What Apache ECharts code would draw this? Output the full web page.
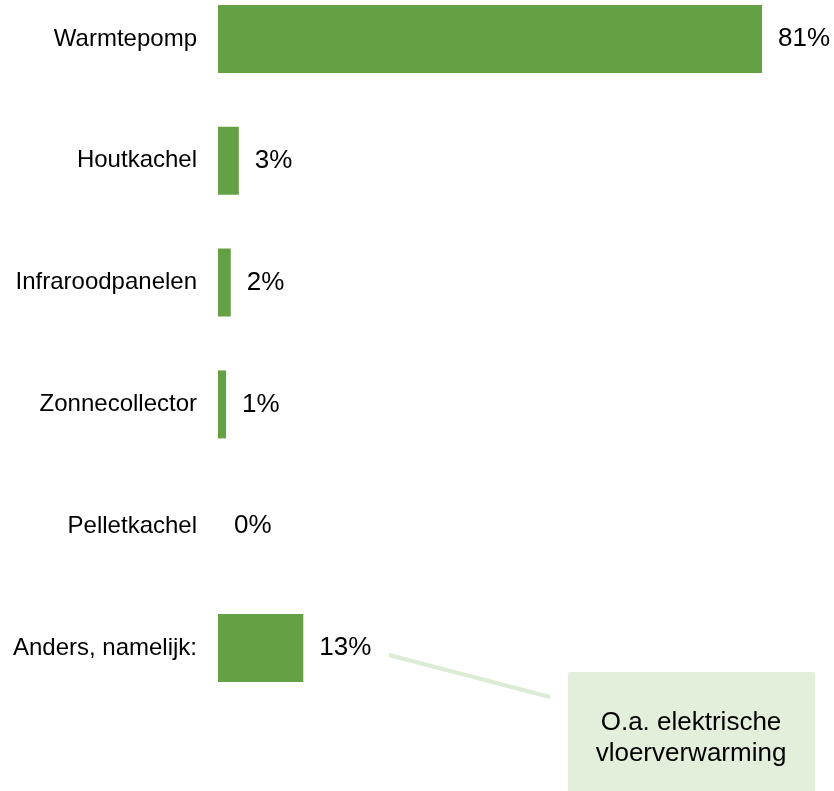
<!DOCTYPE html>
<html>
<head>
<meta charset="utf-8">
<script src="https://cdn.jsdelivr.net/npm/echarts@6/dist/echarts.min.js"></script>
<style>
  html, body { margin: 0; padding: 0; background: #fff; }
  #main { width: 834px; height: 791px; }
</style>
</head>
<body>
<div id="main"></div>
<script>
var categories = ['Warmtepomp', 'Houtkachel', 'Infraroodpanelen', 'Zonnecollector', 'Pelletkachel', 'Anders, namelijk:'];
// percentages (labels are rounded)
var values = [81, 3.1, 1.9, 1.2, 0, 12.7];
var noteLines = ['O.a. elektrische', 'vloerverwarming'];

var font = '"Liberation Sans", Arial, sans-serif';
var myChart = echarts.init(document.getElementById('main'));

var option = {
    animation: false,
    backgroundColor: '#ffffff',
    grid: {
        left: 218,
        right: 72,
        top: -22,
        bottom: 82,
        outerBoundsMode: 'none'
    },
    xAxis: {
        type: 'value',
        min: 0,
        max: 81,
        show: false
    },
    yAxis: {
        type: 'category',
        inverse: true,
        data: categories,
        axisLine: { show: false },
        axisTick: { show: false },
        splitLine: { show: false },
        axisLabel: {
            margin: 21,
            fontSize: 24,
            color: '#000',
            fontFamily: font
        }
    },
    series: [{
        type: 'bar',
        data: values,
        barWidth: 68,
        itemStyle: { color: '#64a044' },
        label: {
            show: true,
            position: 'right',
            distance: 16,
            fontSize: 26,
            color: '#000',
            fontFamily: font,
            formatter: function(p) {
                return Math.round(p.value) + '%';
            }
        }
    }],
    // annotation callout
    graphic: [
        {
            type: 'line',
            shape: { x1: 389, y1: 655, x2: 550, y2: 697 },
            style: { stroke: '#dcebd3', lineWidth: 4 }
        },
        {
            type: 'rect',
            shape: { x: 568, y: 672, width: 247, height: 130, r: 2 },
            style: { fill: '#e2efda' }
        },
        {
            type: 'text',
            x: 691,
            y: 738,
            style: {
                text: noteLines.join('\n'),
                fontSize: 26,
                lineHeight: 31,
                fontFamily: font,
                fill: '#000',
                align: 'center',
                verticalAlign: 'middle'
            }
        }
    ]
};

myChart.setOption(option);
</script>
</body>
</html>
